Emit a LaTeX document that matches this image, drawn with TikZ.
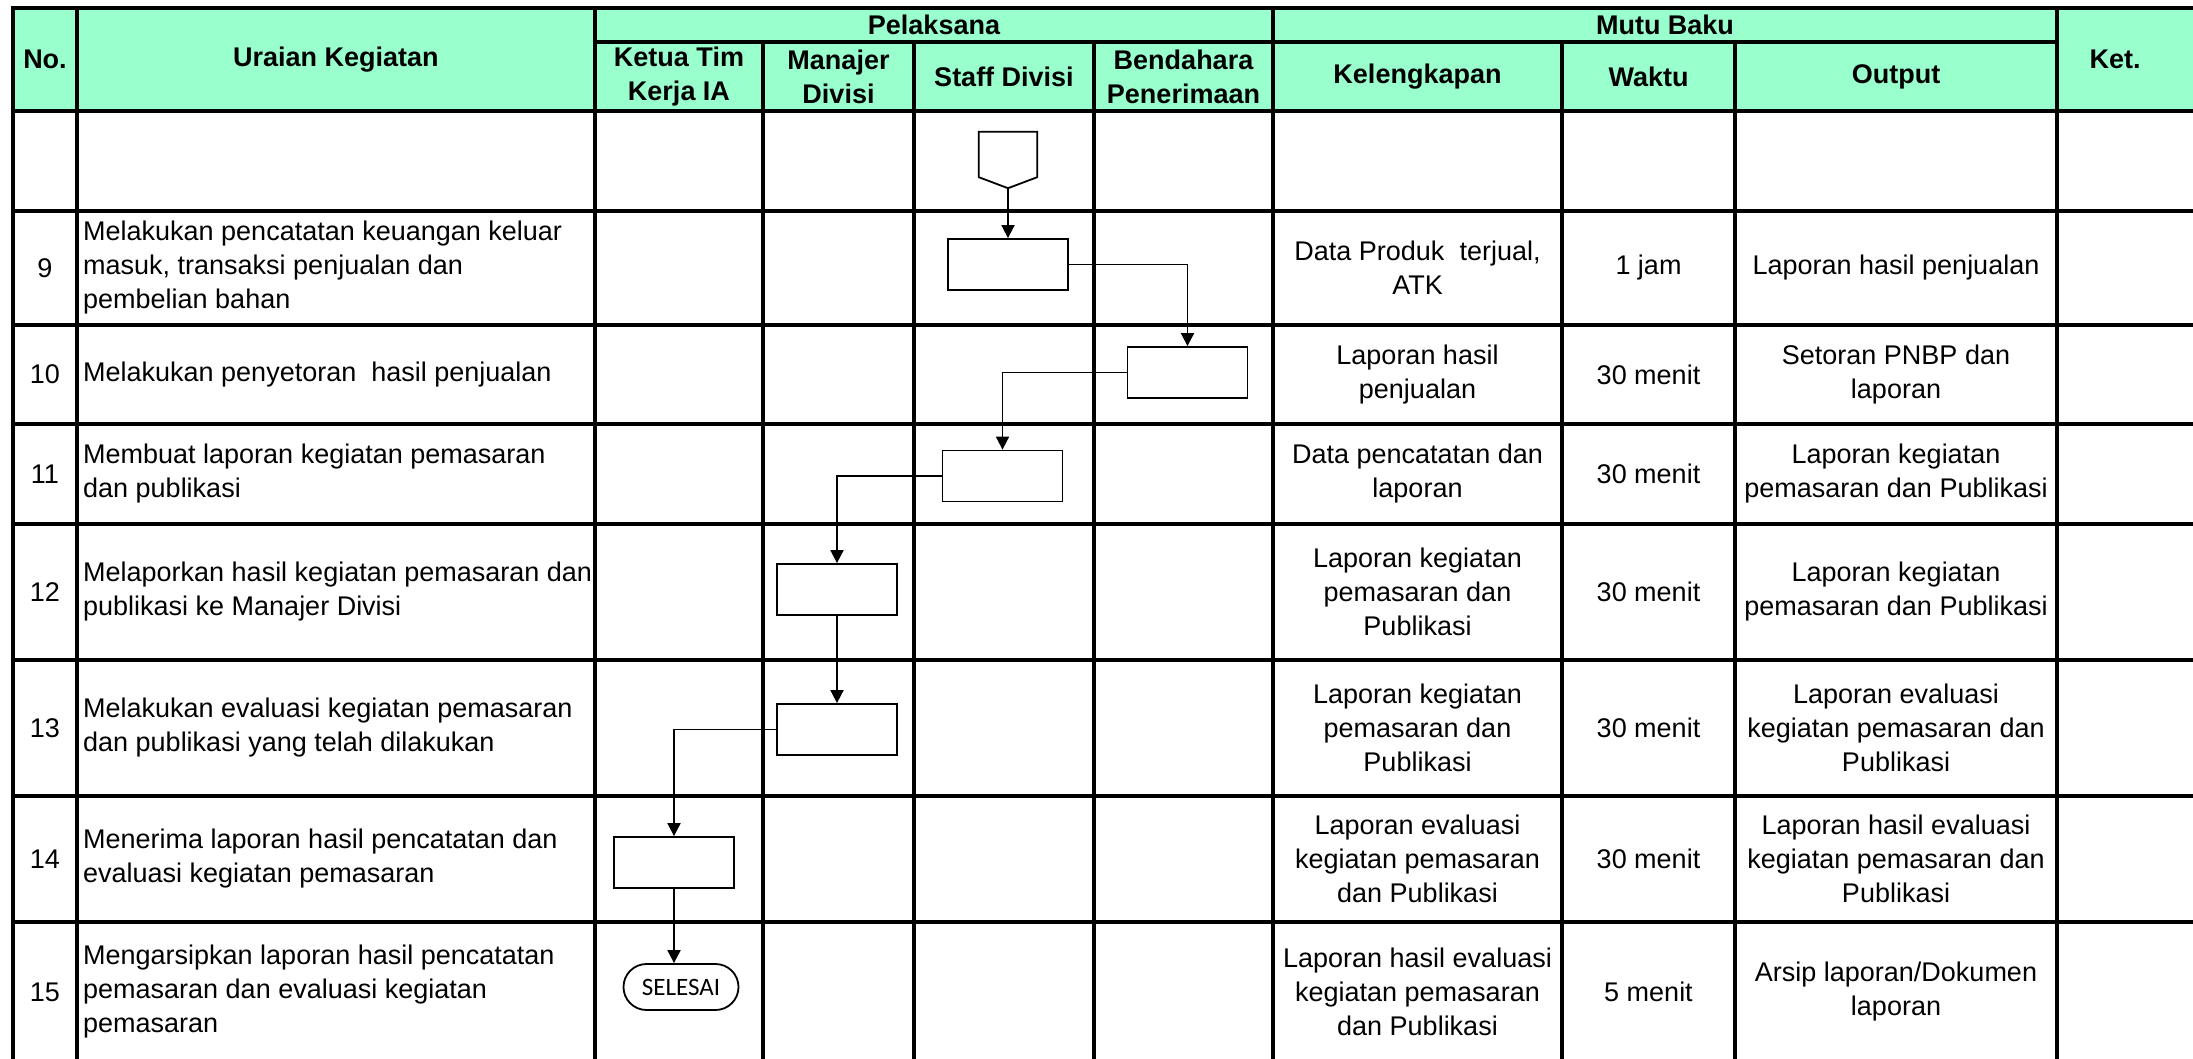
\documentclass[tikz,border=0pt]{standalone}
\usepackage{fontspec}
\setmainfont{Liberation Sans}
\newfontfamily\carlito{Carlito}
\usetikzlibrary{arrows.meta}
\definecolor{headgreen}{HTML}{99FFCC}
\newcommand{\cellsize}{\fontsize{27}{34}\selectfont}

\begin{document}
\begin{tikzpicture}[x=1pt,y=-1pt,
    grid/.style={line width=3.2pt,line cap=rect},
    head/.style={font=\cellsize\bfseries,align=center},
    cell/.style={font=\cellsize,align=center},
    desc/.style={font=\cellsize,align=left,anchor=west,inner xsep=2pt},
    proc/.style={rectangle,draw,line width=1.8pt,minimum width=120pt,minimum height=51pt},
    term/.style={rectangle,rounded corners=23pt,draw,line width=1.8pt,minimum width=115pt,minimum height=46pt,font=\carlito\fontsize{25}{30}\selectfont},
    arr/.style={-{Triangle[length=13pt,width=13pt]},line width=1.8pt}]
  \useasboundingbox (0,0) rectangle (2193,1058);
  \fill[headgreen] (13,8) rectangle (2193,111);

  % grid
  \foreach \y in {8,111,211,325,424,524,660,796,922}
    \draw[grid] (13,\y) -- (2193,\y);
  \draw[grid] (595,42) -- (2057,42);
  \foreach \x in {13,77,595,1273,2057}
    \draw[grid] (\x,8) -- (\x,1058);
  \foreach \x in {763,914,1094,1562,1735}
    \draw[grid] (\x,42) -- (\x,1058);

  % header
  \node[head] (hno) at (45,59.5) {No.};
  \node[head] (hur) at (336,59.5) {Uraian Kegiatan};
  \node[head] (hpl) at (934,25) {Pelaksana};
  \node[head] (hkt) at (679,76.5) {Ketua Tim\\Kerja IA};
  \node[head] (hmd) at (838.5,76.5) {Manajer\\Divisi};
  \node[head] (hsd) at (1004,76.5) {Staff Divisi};
  \node[head] (hbp) at (1183.5,76.5) {Bendahara\\Penerimaan};
  \node[head] (hmb) at (1665,25) {Mutu Baku};
  \node[head] (hkl) at (1417.5,76.5) {Kelengkapan};
  \node[head] (hwk) at (1648.5,76.5) {Waktu};
  \node[head] (hop) at (1896,76.5) {Output};
  \node[head] (hket) at (2115,59.5) {Ket.};

  % rows
  \foreach \n/\y/\txt/\kel/\wkt/\out in {
    9/268/{Melakukan pencatatan keuangan keluar\\masuk, transaksi penjualan dan\\pembelian bahan}/{Data Produk\ \ terjual,\\ATK}/{1 jam}/{Laporan hasil penjualan},
    10/374.5/{Melakukan penyetoran\ \ hasil penjualan}/{Laporan hasil\\penjualan}/{30 menit}/{Setoran PNBP dan\\laporan},
    11/474/{Membuat laporan kegiatan pemasaran\\dan publikasi}/{Data pencatatan dan\\laporan}/{30 menit}/{Laporan kegiatan\\pemasaran dan Publikasi},
    12/592/{Melaporkan hasil kegiatan pemasaran dan\\publikasi ke Manajer Divisi}/{Laporan kegiatan\\pemasaran dan\\Publikasi}/{30 menit}/{Laporan kegiatan\\pemasaran dan Publikasi},
    13/728/{Melakukan evaluasi kegiatan pemasaran\\dan publikasi yang telah dilakukan}/{Laporan kegiatan\\pemasaran dan\\Publikasi}/{30 menit}/{Laporan evaluasi\\kegiatan pemasaran dan\\Publikasi},
    14/859/{Menerima laporan hasil pencatatan dan\\evaluasi kegiatan pemasaran}/{Laporan evaluasi\\kegiatan pemasaran\\dan Publikasi}/{30 menit}/{Laporan hasil evaluasi\\kegiatan pemasaran dan\\Publikasi},
    15/992/{Mengarsipkan laporan hasil pencatatan\\pemasaran dan evaluasi kegiatan\\pemasaran}/{Laporan hasil evaluasi\\kegiatan pemasaran\\dan Publikasi}/{5 menit}/{Arsip laporan/Dokumen\\laporan}}
  {
    \node[cell] (no\n) at (45,\y) {\n};
    \node[desc] (ur\n) at (81,\y) {\txt};
    \node[cell] (kl\n) at (1417.5,\y) {\kel};
    \node[cell] (wk\n) at (1648.5,\y) {\wkt};
    \node[cell] (op\n) at (1896,\y) {\out};
  }

  % flow
  \node[minimum width=58pt,minimum height=56pt,inner sep=0pt] (start) at (1008,160) {};
  \draw[line width=1.8pt] (start.north west) -- (start.north east) -- ([yshift=11pt]start.south east)
    -- (start.south) -- ([yshift=11pt]start.south west) -- cycle;
  \node[proc] (b9) at (1008,264.5) {};
  \node[proc] (b10) at (1187.5,372.5) {};
  \node[proc] (b11) at (1002.5,476) {};
  \node[proc] (b12) at (837,589.5) {};
  \node[proc] (b13) at (837,729.5) {};
  \node[proc] (b14) at (674,862.5) {};
  \node[term] (selesai) at (681,987) {SELESAI};

  \draw[arr] (start.south) -- (b9.north);
  \draw[arr] (b9.east) -| (b10.north);
  \draw[arr] (b10.west) -| (b11.north);
  \draw[arr] (b11.west) -| (b12.north);
  \draw[arr] (b12.south) -- (b13.north);
  \draw[arr] (b13.west) -| (b14.north);
  \draw[arr] (b14.south) -- (b14.south |- selesai.north);
\end{tikzpicture}
\end{document}
